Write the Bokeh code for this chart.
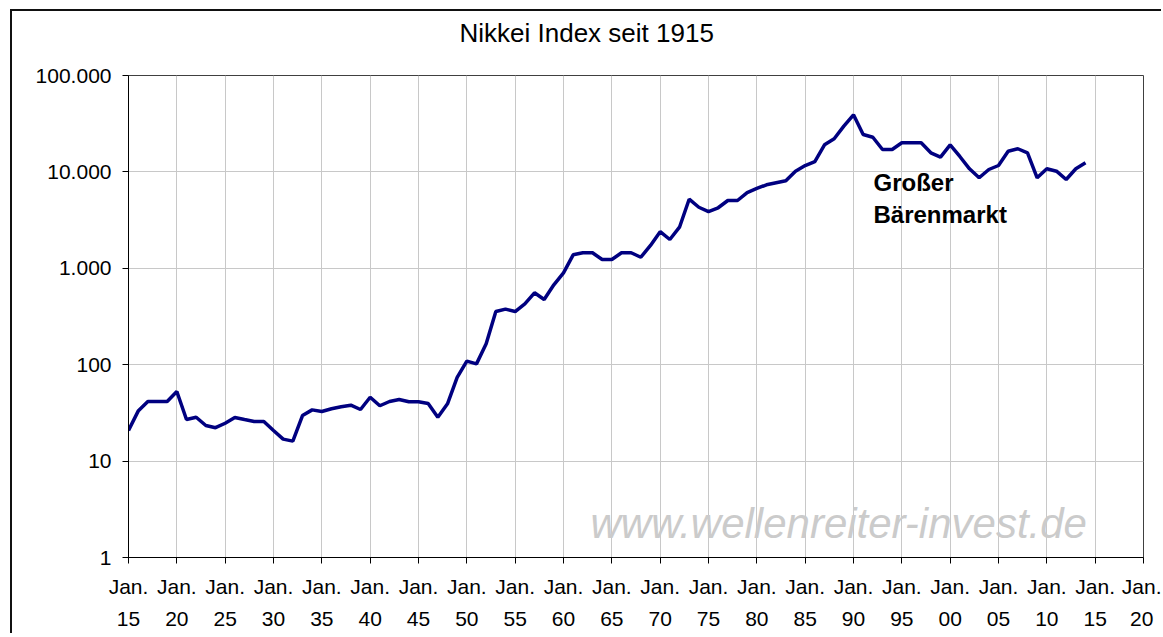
from bokeh.plotting import figure
from bokeh.models import FixedTicker, Label, Title
from bokeh.embed import file_html
from bokeh.resources import INLINE

# ---- data ----
years = list(range(1915, 2015))
nikkei = [
    20.8, 33, 41.5, 41.5, 41.5, 52.7, 27, 28.5, 23.4, 22.2,
    24.7, 28.3, 27, 25.8, 25.8, 20.8, 16.9, 16.1, 29.7, 34,
    32.7, 34.9, 36.6, 38, 34.3, 46, 37.5, 41.5, 43.5, 41.2,
    41.2, 39.6, 28.5, 39.3, 74, 109, 102, 165, 356, 377,
    356, 428, 557, 475, 674, 898, 1380, 1449, 1449, 1233,
    1233, 1449, 1449, 1303, 1726, 2400, 1990, 2669, 5210, 4300,
    3880, 4245, 5050, 5050, 6110, 6730, 7350, 7710, 8090, 10170,
    11640, 12810, 19100, 22050, 29800, 39100, 24400, 22900, 17070, 17070,
    20040, 20040, 20040, 15780, 14220, 19100, 14450, 10770, 8690, 10590,
    11650, 16400, 17380, 15780, 8690, 10770, 10170, 8340, 10770, 12420,
]
x_tick_values = [1915, 1920, 1925, 1930, 1935, 1940, 1945, 1950, 1955, 1960, 1965,
                 1970, 1975, 1980, 1985, 1990, 1995, 2000, 2005, 2010, 2015, 2020]
x_tick_labels = ["Jan.\n15", "Jan.\n20", "Jan.\n25", "Jan.\n30", "Jan.\n35", "Jan.\n40",
                 "Jan.\n45", "Jan.\n50", "Jan.\n55", "Jan.\n60", "Jan.\n65", "Jan.\n70",
                 "Jan.\n75", "Jan.\n80", "Jan.\n85", "Jan.\n90", "Jan.\n95", "Jan.\n00",
                 "Jan.\n05", "Jan.\n10", "Jan.\n15", "Jan.\n20"]
y_tick_values = [1, 10, 100, 1000, 10000, 100000]
y_tick_labels = ["1", "10", "100", "1.000", "10.000", "100.000"]

title_text = "Nikkei Index seit 1915"
note_lines = ["Großer", "Bärenmarkt"]
watermark = "www.wellenreiter-invest.de"

FONT = "Liberation Sans"

p = figure(
    width=1151, height=624,
    x_range=(1915, 2020), y_range=(1, 100000),
    y_axis_type="log",
    output_backend="svg", toolbar_location=None,
    min_border_left=116, min_border_top=64, min_border_right=20, min_border_bottom=78,
    styles={"margin-left": "10px", "margin-top": "9px",
            "border-left": "2px solid #111", "border-top": "2px solid #111"},
)
p.background_fill_color = "white"
p.border_fill_color = "white"
p.outline_line_color = "#404040"
p.outline_line_width = 1

# spacer between title and plot area (empty text)
p.add_layout(Title(text=" ", text_font=FONT, text_font_size="23px", standoff=0), "above")

# title
p.title.text = title_text
p.title.align = "left"
p.title.offset = 331
p.title.standoff = 0
p.title.text_font = FONT
p.title.text_font_size = "26px"
p.title.text_font_style = "normal"
p.title.text_color = "black"

# grid
p.xgrid.ticker = FixedTicker(ticks=x_tick_values)
p.ygrid.ticker = FixedTicker(ticks=y_tick_values)
for g in (p.xgrid, p.ygrid):
    g.grid_line_color = "#c8c8c8"
    g.grid_line_width = 1
p.ygrid.minor_grid_line_color = None

# axes
xa = p.xaxis[0]
xa.ticker = FixedTicker(ticks=x_tick_values)
xa.major_label_overrides = {v: l for v, l in zip(x_tick_values, x_tick_labels)}
ya = p.yaxis[0]
ya.ticker = FixedTicker(ticks=y_tick_values)
ya.major_label_overrides = {v: l for v, l in zip(y_tick_values, y_tick_labels)}
for ax in (xa, ya):
    ax.axis_line_color = "black"
    ax.axis_line_width = 1
    ax.major_tick_line_color = "black"
    ax.major_tick_in = 0
    ax.major_tick_out = 6
    ax.minor_tick_line_color = None
    ax.major_label_text_font = FONT
    ax.major_label_text_font_size = "21px"
    ax.major_label_text_color = "black"
xa.major_label_standoff = 11
xa.major_label_text_line_height = 1.43
ya.major_label_standoff = 11

# data line
p.line(years, nikkei, line_color="#000080", line_width=3.5)

# texts inside the plot area (screen units relative to plot frame)
p.add_layout(Label(x=745, y=375, x_units="screen", y_units="screen", text=note_lines[0],
                   text_font=FONT, text_font_size="24px", text_font_style="bold",
                   text_color="black", text_align="left", text_baseline="alphabetic"))
p.add_layout(Label(x=745, y=343, x_units="screen", y_units="screen", text=note_lines[1],
                   text_font=FONT, text_font_size="24px", text_font_style="bold",
                   text_color="black", text_align="left", text_baseline="alphabetic"))
p.add_layout(Label(x=462, y=34, x_units="screen", y_units="screen", text=watermark,
                   text_font=FONT, text_font_size="42px", text_font_style="italic",
                   text_color="#cbcbcb", text_align="left", text_baseline="alphabetic"))

open("out.html", "w").write(file_html(p, INLINE))
